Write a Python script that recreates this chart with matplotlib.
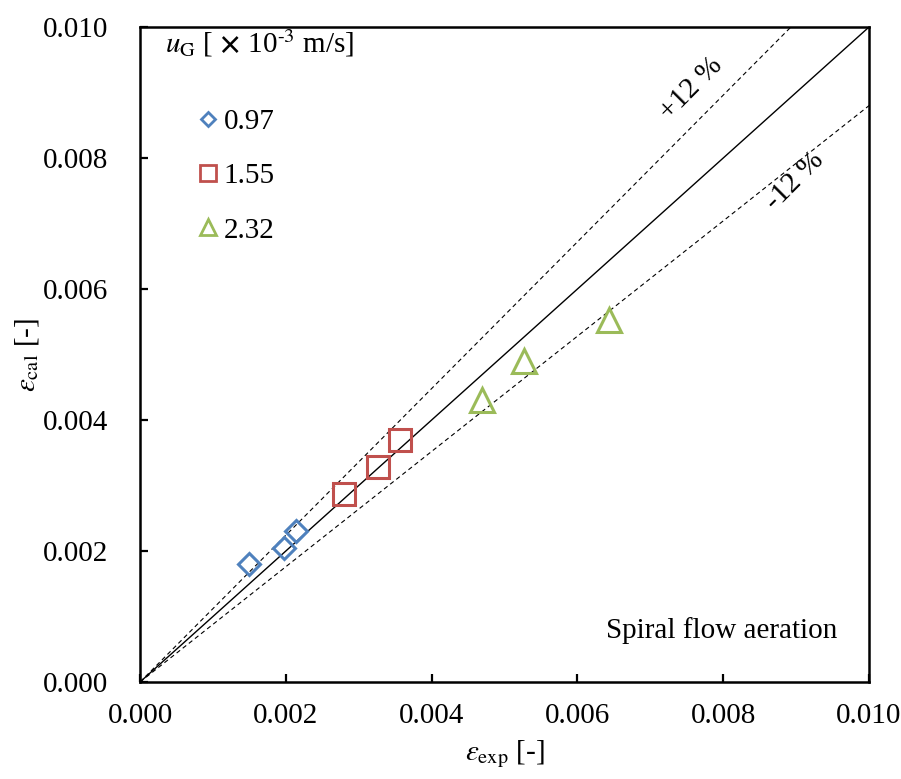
import numpy as np
import matplotlib
matplotlib.use('Agg')
from matplotlib import pyplot as plt
from matplotlib.lines import Line2D

plt.rcParams['font.family'] = ['Liberation Serif', 'DejaVu Serif']
plt.rcParams['mathtext.fontset'] = 'stix'

# data
labels = ['0.97', '1.55', '2.32']
colors = ['#4F81BD', '#C0504D', '#9BBB59']
markers = ['D', 's', '^']
msizes = [11.0, 16.5, 17.0]
leg_msizes = [7.5, 11.0, 12.0]

eps_exp_097 = [0.00150, 0.00198, 0.00214]
eps_cal_097 = [0.00180, 0.00204, 0.00231]
eps_exp_155 = [0.00280, 0.00327, 0.00357]
eps_cal_155 = [0.00287, 0.00328, 0.00369]
eps_exp_232 = [0.00469, 0.00527, 0.00644]
eps_cal_232 = [0.00430, 0.00490, 0.00552]

xs = [eps_exp_097, eps_exp_155, eps_exp_232]
ys = [eps_cal_097, eps_cal_155, eps_cal_232]

fs = 21

fig = plt.figure(figsize=(9.01, 7.79), dpi=100)
ax = fig.add_axes([0.1554, 0.1245, 0.8091, 0.8408])

line = np.array([0.0, 0.012])
ax.plot(line, line, color='black', lw=1.0, zorder=1)
ax.plot(line, 1.12 * line, color='black', lw=0.8, ls=(0, (4, 3)), zorder=1)
ax.plot(line, 0.88 * line, color='black', lw=0.8, ls=(0, (4, 3)), zorder=1)

for x, y, c, m, ms in zip(xs, ys, colors, markers, msizes):
    ax.plot(x, y, ls='none', marker=m, ms=ms, mfc='none', mec=c, mew=2.2, zorder=3)

ax.set_xlim(0, 0.010)
ax.set_ylim(0, 0.010)
ax.set_xticks(np.arange(0, 0.0101, 0.002))
ax.set_yticks(np.arange(0, 0.0101, 0.002))
ax.xaxis.set_major_formatter(matplotlib.ticker.FormatStrFormatter('%.3f'))
ax.yaxis.set_major_formatter(matplotlib.ticker.FormatStrFormatter('%.3f'))
ax.tick_params(direction='in', length=6, width=1.6, labelsize=fs)
ax.tick_params(axis='x', pad=15)
ax.tick_params(axis='y', pad=23)
for s in ax.spines.values():
    s.set_linewidth(1.8)

ax.set_xlabel(r'$\varepsilon_{\rm exp}$ [-]', fontsize=fs, labelpad=7)
ax.set_ylabel(r'$\varepsilon_{\rm cal}$ [-]', fontsize=fs, labelpad=1)

handles = [Line2D([], [], ls='none', marker=m, ms=ms, mfc='none', mec=c, mew=2.0)
           for m, ms, c in zip(markers, leg_msizes, colors)]
leg = ax.legend(handles, labels, loc='upper left', bbox_to_anchor=(0.073, 0.875),
                frameon=False, fontsize=fs, handlelength=1.0, handletextpad=0.05,
                labelspacing=0.95, borderpad=0, borderaxespad=0)

ax.text(0.034, 0.975, r'$u_{\rm G}$ [ $\mathbf{\times}$ 10$^{\text{-3}}$ m/s]', transform=ax.transAxes,
        fontsize=fs, ha='left', va='center')

ax.text(0.00756, 0.00905, '+12 %', fontsize=fs, rotation=45, ha='center', va='center')
ax.text(0.00898, 0.00765, '-12 %', fontsize=fs, rotation=45, ha='center', va='center')
ax.text(0.957, 0.079, 'Spiral flow aeration', transform=ax.transAxes,
        fontsize=fs, ha='right', va='center')

fig.savefig('out.png', dpi=100)
